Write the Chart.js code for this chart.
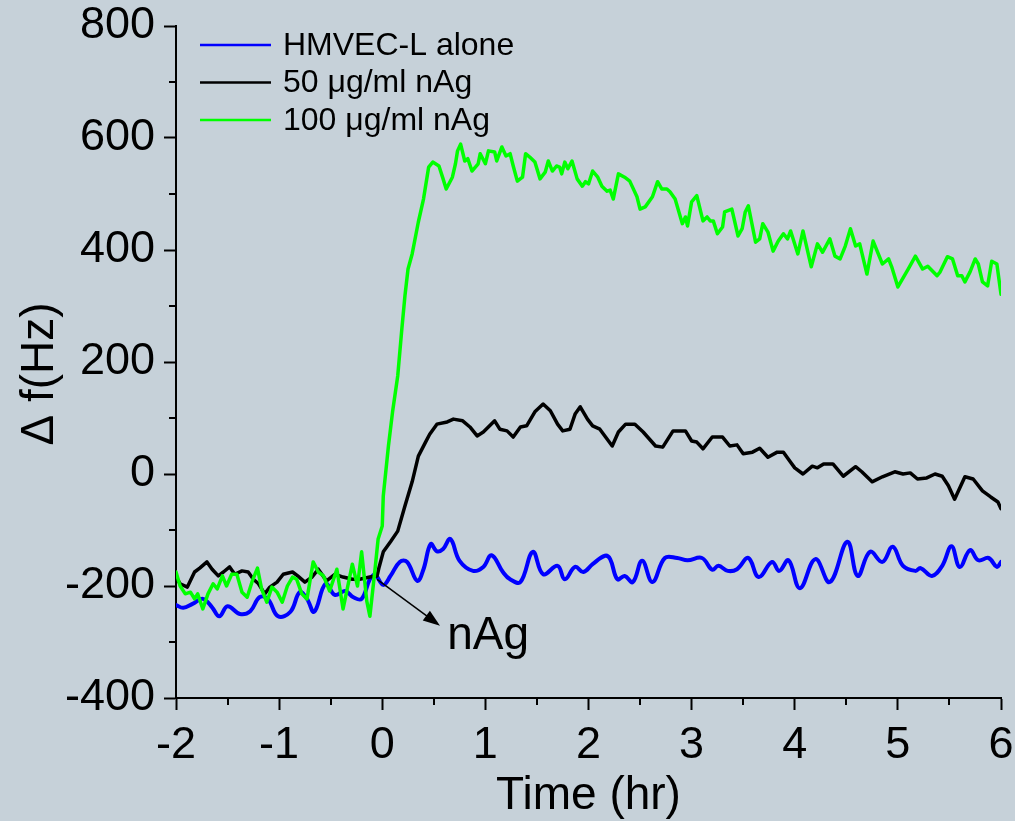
<!DOCTYPE html>
<html>
<head>
<meta charset="utf-8">
<script src="https://cdn.jsdelivr.net/npm/chart.js@4.4.1/dist/chart.umd.min.js"></script>
<style>
  html, body { margin: 0; padding: 0; background: #c6d1d9; }
  #wrap { width: 1015px; height: 821px; }
</style>
</head>
<body>
<div id="wrap"><canvas id="qcm" width="1015" height="821"></canvas></div>
<script>
// ─── DATA ───
const seriesNames = ['HMVEC-L alone', '50 \u03bcg/ml nAg', '100 \u03bcg/ml nAg'];
const seriesColors = ['#0000ff', '#000000', '#00ff00'];

const xTicks = [-2, -1, 0, 1, 2, 3, 4, 5, 6];
const xMinor = [-1.5, -0.5, 0.5, 1.5, 2.5, 3.5, 4.5, 5.5];
const yTicks = [-400, -200, 0, 200, 400, 600, 800];
const yMinor = [-300, -100, 100, 300, 500, 700];

// HMVEC-L alone (blue)
const aloneX = [-2.00,-1.93,-1.84,-1.74,-1.65,-1.58,-1.50,-1.38,-1.28,-1.19,
  -1.11,-1.01,-0.89,-0.80,-0.73,-0.66,-0.55,-0.46,-0.36,-0.28,
  -0.20,-0.12,-0.07,0.01,0.08,0.17,0.24,0.34,0.40,0.47,
  0.53,0.59,0.66,0.75,0.88,0.98,1.06,1.17,1.24,1.34,
  1.46,1.56,1.70,1.77,1.87,1.95,2.04,2.16,2.21,2.28,
  2.35,2.43,2.52,2.62,2.74,2.86,2.96,3.10,3.20,3.26,
  3.35,3.44,3.55,3.65,3.78,3.85,3.94,4.05,4.20,4.34,
  4.51,4.61,4.73,4.85,4.95,5.05,5.17,5.22,5.33,5.43,
  5.52,5.60,5.70,5.78,5.88,5.96,6.00];
const aloneY = [-234,-239,-232,-223,-238,-254,-236,-250,-245,-220,
  -223,-254,-246,-211,-223,-246,-196,-216,-209,-220,
  -223,-188,-180,-198,-182,-157,-157,-191,-170,-125,
  -138,-134,-116,-155,-173,-166,-145,-175,-188,-193,
  -139,-179,-164,-188,-166,-175,-161,-146,-152,-188,
  -182,-193,-155,-193,-150,-150,-154,-150,-171,-164,
  -173,-170,-150,-184,-157,-173,-154,-204,-152,-193,
  -121,-182,-139,-157,-130,-164,-173,-168,-182,-164,
  -129,-166,-136,-154,-150,-166,-157];

// 50 ug/ml nAg (black)
const nag50X = [-2.00,-1.96,-1.89,-1.82,-1.77,-1.70,-1.65,-1.59,-1.54,-1.48,
  -1.43,-1.36,-1.30,-1.25,-1.20,-1.14,-1.09,-1.02,-0.96,-0.87,
  -0.82,-0.75,-0.68,-0.62,-0.54,-0.46,-0.38,-0.29,-0.22,-0.12,
  -0.05,-0.03,0.01,0.08,0.15,0.22,0.29,0.35,0.42,0.46,
  0.53,0.63,0.69,0.78,0.85,0.92,0.98,1.09,1.14,1.21,
  1.27,1.34,1.40,1.48,1.56,1.63,1.70,1.75,1.82,1.87,
  1.92,1.99,2.04,2.11,2.23,2.29,2.36,2.45,2.53,2.65,
  2.72,2.82,2.94,3.00,3.05,3.11,3.20,3.30,3.37,3.44,
  3.50,3.59,3.66,3.74,3.83,3.89,3.96,4.00,4.08,4.17,
  4.22,4.28,4.37,4.47,4.59,4.65,4.75,4.85,4.97,5.05,
  5.12,5.19,5.28,5.36,5.43,5.49,5.55,5.65,5.73,5.82,
  5.90,5.97,6.00];
const nag50Y = [-184,-196,-202,-175,-168,-157,-170,-182,-175,-166,
  -179,-173,-175,-188,-196,-214,-202,-193,-179,-175,
  -182,-193,-184,-170,-191,-179,-184,-188,-188,-184,
  -182,-166,-139,-121,-102,-57,-14,32,57,71,
  89,93,98,95,84,68,75,95,80,77,
  66,84,86,111,125,113,89,77,80,107,
  120,98,86,80,50,75,89,89,75,50,
  48,77,77,59,57,45,66,66,50,52,
  36,39,46,30,39,39,21,11,0,14,
  11,18,18,-4,13,4,-14,-5,4,0,
  2,-9,-7,0,-4,-21,-45,-5,-9,-30,
  -41,-50,-62];

// 100 ug/ml nAg (green)
const nag100X = [-2.00,-1.96,-1.91,-1.86,-1.82,-1.79,-1.74,-1.69,-1.64,-1.60,
  -1.55,-1.51,-1.46,-1.41,-1.36,-1.31,-1.26,-1.21,-1.17,-1.12,
  -1.07,-1.02,-0.97,-0.92,-0.87,-0.83,-0.78,-0.73,-0.67,-0.62,
  -0.57,-0.51,-0.44,-0.38,-0.29,-0.24,-0.20,-0.15,-0.12,-0.07,
  -0.04,0.00,0.01,0.06,0.10,0.15,0.19,0.22,0.25,0.29,
  0.35,0.40,0.45,0.49,0.55,0.59,0.62,0.68,0.71,0.73,
  0.76,0.80,0.83,0.87,0.93,0.95,1.00,1.03,1.09,1.11,
  1.16,1.20,1.24,1.27,1.31,1.36,1.39,1.43,1.48,1.53,
  1.58,1.61,1.65,1.69,1.72,1.74,1.77,1.80,1.84,1.89,
  1.94,1.97,2.00,2.04,2.09,2.13,2.18,2.21,2.24,2.29,
  2.35,2.40,2.47,2.50,2.55,2.62,2.67,2.71,2.76,2.79,
  2.84,2.91,2.94,2.96,3.00,3.05,3.11,3.15,3.18,3.21,
  3.25,3.30,3.32,3.39,3.45,3.49,3.52,3.55,3.62,3.66,
  3.69,3.74,3.79,3.84,3.89,3.93,3.96,4.03,4.08,4.16,
  4.22,4.27,4.34,4.39,4.44,4.49,4.54,4.59,4.63,4.70,
  4.76,4.85,4.91,4.94,5.00,5.10,5.17,5.24,5.29,5.38,
  5.41,5.48,5.53,5.58,5.62,5.65,5.70,5.75,5.78,5.82,
  5.87,5.91,5.96,6.00];
const nag100Y = [-175,-200,-214,-211,-223,-214,-241,-214,-196,-205,
  -182,-200,-179,-179,-211,-220,-191,-168,-205,-229,
  -202,-211,-229,-200,-184,-188,-214,-223,-157,-175,
  -182,-209,-170,-241,-161,-200,-139,-227,-254,-170,
  -116,-93,-39,50,111,175,259,318,366,393,
  450,491,548,557,550,527,509,530,554,577,
  589,559,563,541,554,572,554,577,575,559,
  584,568,572,550,523,530,572,566,557,527,
  539,559,541,550,548,536,557,545,559,527,
  514,522,518,541,530,514,505,507,491,536,
  530,523,495,473,477,495,522,509,509,504,
  491,447,459,443,486,497,452,459,452,452,
  429,441,468,473,425,438,468,479,414,420,
  447,432,398,416,429,420,434,393,434,370,
  411,396,420,389,384,407,438,407,411,357,
  416,375,384,370,334,366,389,366,371,354,
  361,388,384,354,354,343,361,384,375,343,
  336,380,375,321];

// nAg addition marker (data units)
const arrowFrom = { x: -0.05, y: -188 };
const arrowTo = { x: 0.56, y: -271 };
const arrowLabel = { x: 0.63, y: -313, text: 'nAg' };

const FONT = '"Liberation Sans", Arial, Helvetica, sans-serif';

function toPoints(xs, ys) {
    return xs.map((x, i) => ({ x: x, y: ys[i] }));
}

// ─── PLUGINS ───
const minorTicks = {
    id: 'minorTicks',
    afterDraw(chart) {
        const { ctx, chartArea, scales } = chart;
        ctx.save();
        ctx.strokeStyle = '#000';
        ctx.lineWidth = 2;
        ctx.beginPath();
        xMinor.forEach(v => {
            const px = Math.round(scales.x.getPixelForValue(v));
            ctx.moveTo(px, chartArea.bottom);
            ctx.lineTo(px, chartArea.bottom + 7);
        });
        yMinor.forEach(v => {
            const py = Math.round(scales.y.getPixelForValue(v));
            ctx.moveTo(chartArea.left, py);
            ctx.lineTo(chartArea.left - 7, py);
        });
        ctx.stroke();
        ctx.restore();
    }
};

// y title drawn by hand so it can sit a little below the axis centre, as in the source
const yTitle = {
    id: 'yTitle',
    afterDraw(chart) {
        const { ctx, chartArea } = chart;
        ctx.save();
        ctx.translate(40, (chartArea.top + chartArea.bottom) / 2 + 12);
        ctx.rotate(-Math.PI / 2);
        ctx.font = '46px ' + FONT;
        ctx.fillStyle = '#000';
        ctx.textAlign = 'center';
        ctx.textBaseline = 'middle';
        ctx.fillText('\u0394 f(Hz)', 0, 0);
        ctx.restore();
    }
};

const innerLegend = {
    id: 'innerLegend',
    afterDraw(chart) {
        const { ctx, chartArea } = chart;
        ctx.save();
        ctx.font = '32px ' + FONT;
        ctx.textBaseline = 'middle';
        ctx.textAlign = 'left';
        seriesNames.forEach((name, i) => {
            const y = chartArea.top + 19 + i * 37.5;
            ctx.strokeStyle = seriesColors[i];
            ctx.lineWidth = 2.5;
            ctx.beginPath();
            ctx.moveTo(chartArea.left + 24, y);
            ctx.lineTo(chartArea.left + 95, y);
            ctx.stroke();
            ctx.fillStyle = '#000';
            ctx.fillText(name, chartArea.left + 107, y + 1);
        });
        ctx.restore();
    }
};

const nagArrow = {
    id: 'nagArrow',
    afterDatasetsDraw(chart) {
        const { ctx, scales } = chart;
        const x0 = scales.x.getPixelForValue(arrowFrom.x), y0 = scales.y.getPixelForValue(arrowFrom.y);
        const x1 = scales.x.getPixelForValue(arrowTo.x), y1 = scales.y.getPixelForValue(arrowTo.y);
        const ang = Math.atan2(y1 - y0, x1 - x0);
        const headLen = 17, headHalf = 6;
        ctx.save();
        ctx.strokeStyle = '#000';
        ctx.fillStyle = '#000';
        ctx.lineWidth = 1.5;
        ctx.beginPath();
        ctx.moveTo(x0, y0);
        ctx.lineTo(x1 - Math.cos(ang) * headLen * 0.8, y1 - Math.sin(ang) * headLen * 0.8);
        ctx.stroke();
        const bx = x1 - Math.cos(ang) * headLen, by = y1 - Math.sin(ang) * headLen;
        ctx.beginPath();
        ctx.moveTo(x1, y1);
        ctx.lineTo(bx - Math.sin(ang) * headHalf, by + Math.cos(ang) * headHalf);
        ctx.lineTo(bx + Math.sin(ang) * headHalf, by - Math.cos(ang) * headHalf);
        ctx.closePath();
        ctx.fill();
        ctx.font = '46px ' + FONT;
        ctx.textBaseline = 'alphabetic';
        ctx.textAlign = 'left';
        ctx.fillText(arrowLabel.text,
            scales.x.getPixelForValue(arrowLabel.x),
            scales.y.getPixelForValue(arrowLabel.y));
        ctx.restore();
    }
};

// ─── CHART ───
const qcmChart = new Chart(document.getElementById('qcm'), {
    type: 'line',
    data: {
        datasets: [{
            label: seriesNames[0],
            data: toPoints(aloneX, aloneY),
            borderColor: seriesColors[0],
            borderWidth: 4,
            tension: 0.4,
            order: 3
        }, {
            label: seriesNames[1],
            data: toPoints(nag50X, nag50Y),
            borderColor: seriesColors[1],
            borderWidth: 3.5,
            tension: 0,
            order: 2
        }, {
            label: seriesNames[2],
            data: toPoints(nag100X, nag100Y),
            borderColor: seriesColors[2],
            borderWidth: 3.5,
            tension: 0,
            order: 1
        }]
    },
    options: {
        responsive: false,
        animation: false,
        layout: { padding: { top: 26, right: 14, left: 0, bottom: 0 } },
        elements: { point: { radius: 0 }, line: { fill: false, borderJoinStyle: 'round', borderCapStyle: 'round' } },
        plugins: { legend: { display: false }, tooltip: { enabled: false } },
        scales: {
            x: {
                type: 'linear',
                min: -2,
                max: 6,
                afterBuildTicks: s => { s.ticks = xTicks.map(v => ({ value: v })); },
                afterFit: s => { s.height = 123; s.paddingLeft = 0; s.paddingRight = 0; },
                grid: { drawOnChartArea: false, tickLength: 12, tickWidth: 2, tickColor: '#000' },
                border: { color: '#000', width: 2 },
                ticks: {
                    color: '#000', padding: 9, maxRotation: 0, autoSkip: false,
                    font: { family: FONT, size: 45 },
                    callback: v => String(v)
                },
                title: {
                    display: true, text: 'Time (hr)', color: '#000',
                    font: { family: FONT, size: 46 }, padding: { top: 0, bottom: -3 }
                }
            },
            y: {
                min: -400,
                max: 800,
                afterBuildTicks: s => { s.ticks = yTicks.map(v => ({ value: v })); },
                afterFit: s => { s.width = 176; s.paddingTop = 0; s.paddingBottom = 0; },
                grid: { drawOnChartArea: false, tickLength: 12, tickWidth: 2, tickColor: '#000' },
                border: { color: '#000', width: 2 },
                ticks: {
                    color: '#000', padding: 9,
                    font: { family: FONT, size: 45 },
                    callback: v => String(v)
                },
                title: { display: false }
            }
        }
    },
    plugins: [minorTicks, yTitle, innerLegend, nagArrow]
});
</script>
</body>
</html>
